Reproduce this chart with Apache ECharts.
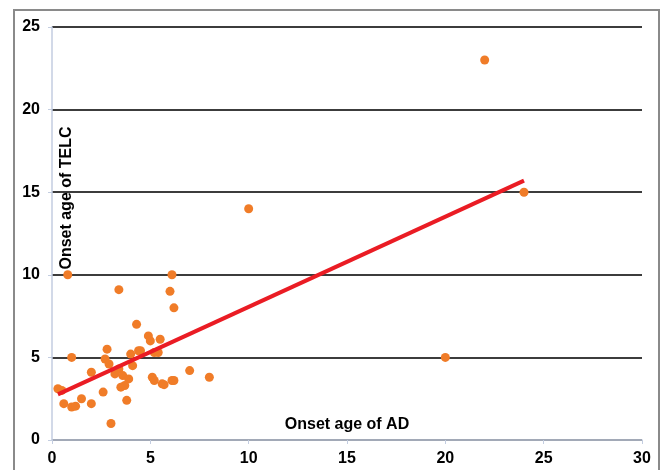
<!DOCTYPE html>
<html>
<head>
<meta charset="utf-8">
<script src="https://cdn.jsdelivr.net/npm/echarts@6/dist/echarts.min.js"></script>
<style>
  html, body { margin: 0; padding: 0; background: #fff; }
  #chart { width: 662px; height: 470px; }
</style>
</head>
<body>
<div id="chart"></div>
<script>
// onset ages
const adOnset = [0.8, 6.1, 3.4, 6.0, 6.2, 4.3, 4.9, 5.0, 5.5, 2.8, 4.0, 4.4, 4.5, 5.2, 5.4,
  1.0, 2.7, 2.9, 3.4, 4.1, 2.0, 3.2, 3.6, 3.9, 5.1, 5.2, 5.6, 5.7, 6.1, 6.2, 7.0, 8.0,
  0.3, 0.5, 2.6, 3.5, 3.7, 1.5, 0.6, 2.0, 1.0, 1.2, 3.8, 3.0, 22, 10, 24, 20];
const telcOnset = [10.0, 10.0, 9.1, 9.0, 8.0, 7.0, 6.3, 6.0, 6.1, 5.5, 5.2, 5.4, 5.4, 5.3, 5.3,
  5.0, 4.9, 4.6, 4.3, 4.5, 4.1, 4.0, 3.9, 3.7, 3.8, 3.6, 3.4, 3.35, 3.6, 3.6, 4.2, 3.8,
  3.1, 3.0, 2.9, 3.2, 3.3, 2.5, 2.2, 2.2, 2.0, 2.05, 2.4, 1.0, 23, 14, 15, 5];
// trend line end points
const trendX = [0.3, 24];
const trendY = [2.76, 15.7];
const xTicks = [0, 5, 10, 15, 20, 25, 30];
const yTicks = [0, 5, 10, 15, 20, 25];

const points = adOnset.map((v, i) => [v, telcOnset[i]]);
const trend = trendX.map((v, i) => [v, trendY[i]]);

const myChart = echarts.init(document.getElementById('chart'), null, { renderer: 'canvas' });

const labelFont = { color: '#000', fontWeight: 'bold', fontSize: 16, fontFamily: 'Liberation Sans, Arial, sans-serif' };

const option = {
  backgroundColor: '#fff',
  animation: false,
  grid: { left: 52, right: 20, top: 27, bottom: 30, containLabel: false },
  xAxis: {
    type: 'value',
    min: xTicks[0],
    max: xTicks[xTicks.length - 1],
    interval: 5,
    name: 'Onset age of AD',
    nameLocation: 'middle',
    nameGap: -23,
    nameTextStyle: labelFont,
    axisLine: { show: true, lineStyle: { color: '#c3cde0', width: 1.5 } },
    axisTick: { show: true, length: 4, lineStyle: { color: '#c3cde0' } },
    axisLabel: Object.assign({ margin: 11 }, labelFont),
    splitLine: { show: false }
  },
  yAxis: {
    type: 'value',
    min: yTicks[0],
    max: yTicks[yTicks.length - 1],
    interval: 5,
    axisLine: { show: true, lineStyle: { color: '#c3cde0', width: 1.5 } },
    axisTick: { show: true, length: 4, lineStyle: { color: '#c3cde0' } },
    axisLabel: Object.assign({ margin: 12 }, labelFont),
    splitLine: { show: true, lineStyle: { color: '#3c3c3c', width: 2 } }
  },
  graphic: [
    {
      type: 'rect',
      shape: { x: 14, y: 10, width: 645, height: 480 },
      style: { fill: 'none', stroke: '#8a8a8a', lineWidth: 2 },
      silent: true
    },
    {
      type: 'text',
      x: 67,
      y: 198,
      rotation: Math.PI / 2,
      style: { text: 'Onset age of TELC', align: 'center', verticalAlign: 'middle', fill: '#000',
        font: 'bold 16px "Liberation Sans", Arial, sans-serif' },
      z: 10
    }
  ],
  series: [
    {
      name: 'patients',
      type: 'scatter',
      data: points,
      symbolSize: 9,
      itemStyle: { color: '#f07c28', opacity: 1 },
      z: 3
    },
    {
      name: 'trend',
      type: 'line',
      data: trend,
      showSymbol: false,
      lineStyle: { color: '#ea1c24', width: 4 },
      z: 4
    }
  ]
};

myChart.setOption(option);
window.addEventListener('resize', () => myChart.resize());
</script>
</body>
</html>
